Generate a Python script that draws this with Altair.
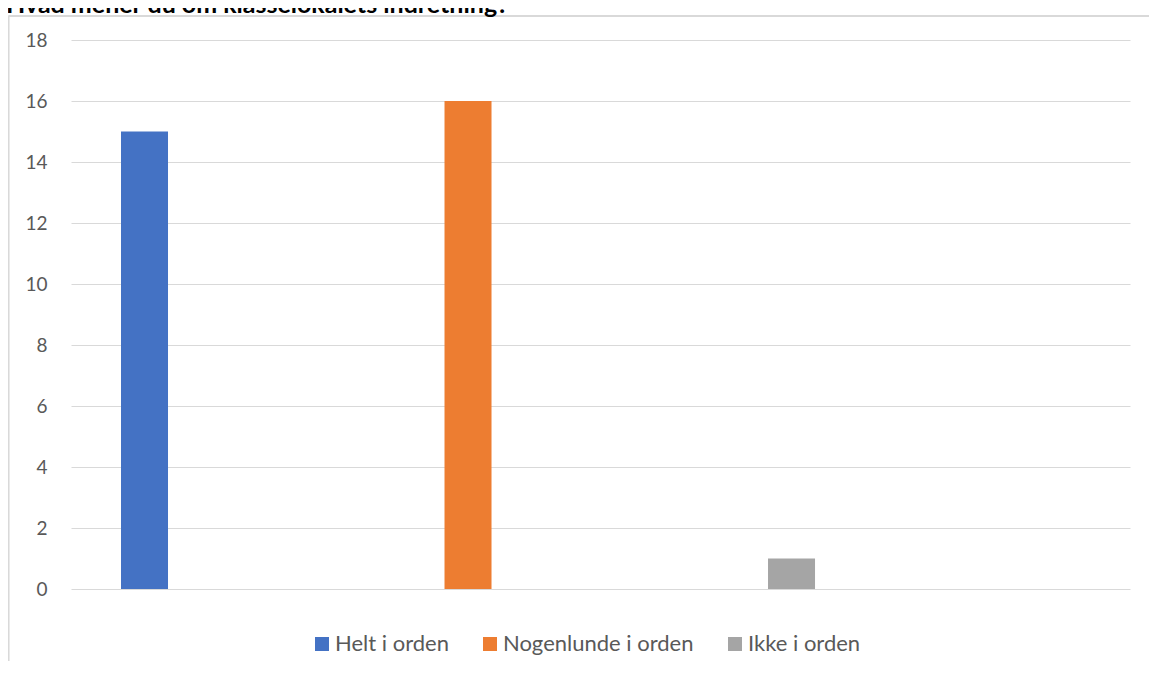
import altair as alt
import pandas as pd

# ---- data ----
series = ["Helt i orden", "Nogenlunde i orden", "Ikke i orden"]
values = [15, 16, 1]
colors = ["#4472C4", "#ED7D31", "#A5A5A5"]
y_ticks = [0, 2, 4, 6, 8, 10, 12, 14, 16, 18]
title_text = "Hvad mener du om klasselokalets indretning?"

df = pd.DataFrame({"serie": series, "antal": values})

FONT = "Lato"
GRID = "#D9D9D9"
TXT = "#595959"

W, H = 1059, 549
PAD = {"left": 63, "top": 32, "right": 19, "bottom": 72}

bars = alt.Chart(df).mark_bar().encode(
    x=alt.X("serie:N", sort=series,
            scale=alt.Scale(type="band", paddingInner=0.8547, paddingOuter=0.5641, align=0.137),
            axis=None),
    y=alt.Y("antal:Q",
            scale=alt.Scale(domain=[0, 18], nice=False, zero=True),
            axis=alt.Axis(values=y_ticks, title=None, domain=False, ticks=False,
                          grid=True, gridColor=GRID, gridWidth=1,
                          labelFont=FONT, labelFontSize=19, labelColor=TXT,
                          labelPadding=24)),
    color=alt.Color("serie:N", sort=series,
                    scale=alt.Scale(domain=series, range=colors),
                    legend=alt.Legend(title=None, orient="none", direction="horizontal",
                                      legendX=240, legendY=593,
                                      symbolType="square", symbolSize=196,
                                      symbolStrokeWidth=0, symbolOpacity=1,
                                      labelFont=FONT, labelFontSize=22, labelColor=TXT,
                                      labelLimit=400,
                                      labelOffset=2, columnPadding=30)),
)

frame_left = alt.Chart(df).mark_rule(color=GRID, strokeWidth=1.5).encode(
    x=alt.value(-62.5), y=alt.value(-24), y2=alt.value(H + PAD["bottom"])
)
frame_top = alt.Chart(df).mark_rule(color=GRID, strokeWidth=1.5).encode(
    x=alt.value(-62.5), x2=alt.value(W + PAD["right"]), y=alt.value(-24)
)

title = alt.Chart(pd.DataFrame({"t": [title_text]})).mark_text(
    align="left", baseline="alphabetic", font=FONT, fontSize=25,
    fontWeight="bold", color="#000000"
).encode(x=alt.value(-65), y=alt.value(-27), text="t:N")

chart = alt.layer(frame_left, frame_top, bars, title).properties(
    width=W, height=H,
    autosize=alt.AutoSizeParams(type="none"),
    padding=PAD,
    background="white",
).configure_view(stroke=None)

chart.save("out.html", embed_options={"renderer": "svg", "actions": False})
